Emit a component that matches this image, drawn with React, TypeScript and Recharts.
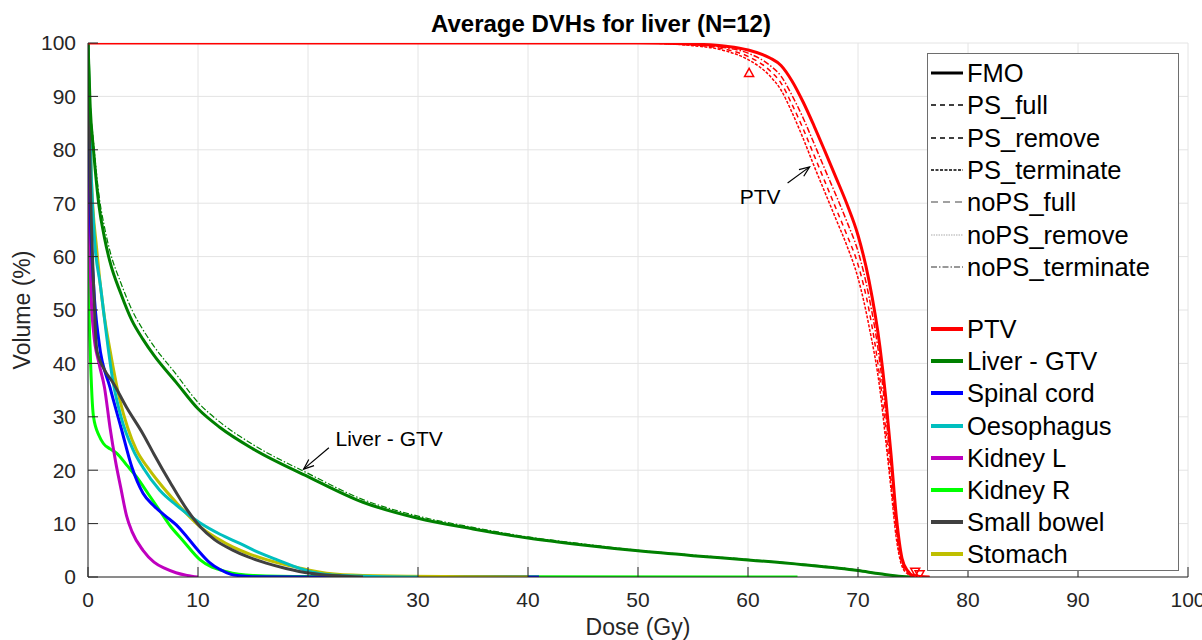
import React from 'react';
import {
  ComposedChart,
  Line,
  Scatter,
  XAxis,
  YAxis,
  CartesianGrid,
  ReferenceLine,
  ReferenceDot,
} from 'recharts';

const FONT = '"Liberation Sans", Arial, Helvetica, sans-serif';
const AXIS_COLOR = '#262626';

const doseTicks = [0, 10, 20, 30, 40, 50, 60, 70, 80, 90, 100];
const volumeTicks = [0, 10, 20, 30, 40, 50, 60, 70, 80, 90, 100];

// PTV (FMO and a few of the near-identical plan variants)
const ptvDose = [0, 50, 55, 58, 60, 62, 63, 64, 65, 66, 67, 68, 69, 70, 71, 72, 72.5, 73, 73.5, 74, 74.5, 75, 76.5];
const ptvFmo = [100, 100, 99.8, 99.4, 98.7, 97.2, 95.8, 92.9, 89, 84.5, 79.7, 74.8, 69.8, 64, 55.5, 43, 34, 23, 11, 3.5, 1.2, 0.3, 0];
const ptvPsFull = [100, 100, 99.6, 98.8, 97.5, 94.8, 92.5, 88.5, 84, 79, 74, 69, 64, 58.5, 50, 37, 28, 18, 8, 2.5, 0.8, 0.2, 0];
const ptvPsTerminate = [100, 100, 99.5, 98.5, 96.9, 93.8, 91.2, 87, 82.2, 77, 72, 67, 62, 56, 47, 35, 26, 16.5, 7, 2, 0.6, 0.1, 0];
const ptvNoPsTerminate = [100, 100, 99.7, 99.1, 98.1, 95.8, 93.8, 90.2, 86, 81.2, 76.3, 71.5, 66.5, 61, 52.5, 40, 31, 20.5, 9.5, 3, 1, 0.2, 0];

// Liver - GTV
const liverDose = [0, 0.2, 0.5, 1, 1.5, 2, 3, 4, 5, 6, 8, 10, 12, 15, 20, 25, 30, 35, 40, 45, 50, 55, 60, 65, 70, 72, 74, 75];
const liverFmo = [100, 88, 80, 69.5, 63.5, 59, 53, 48, 44.5, 41.5, 36.5, 31.5, 28, 24, 18.8, 14, 11, 9, 7.3, 6, 4.9, 4, 3.2, 2.3, 1.2, 0.6, 0.1, 0];
const liverNoPsTerminate = [100, 89, 81.5, 71.5, 65.5, 61, 55, 50, 46.3, 43.2, 38, 32.7, 29, 24.8, 19.4, 14.5, 11.4, 9.3, 7.5, 6.2, 5, 4.1, 3.3, 2.4, 1.3, 0.6, 0.1, 0];

// Spinal cord
const cordDose = [0, 0.2, 0.5, 1, 2, 3, 4, 5, 6, 7, 8, 9, 10, 11, 12, 13, 14, 15, 20, 41];
const cordFmo = [100, 70, 55, 44, 35.5, 28, 20.5, 15.7, 13.3, 11.5, 9.8, 7.5, 5, 2.8, 1.4, 0.5, 0.2, 0.05, 0, 0];

// Oesophagus
const oesoDose = [0, 0.3, 0.6, 1.1, 2.3, 3, 4.1, 5, 6.5, 8, 10.2, 12, 13.8, 15.5, 17.2, 20.2, 23, 30];
const oesoFmo = [100, 75, 63, 55, 36.3, 30, 23.8, 20.5, 16.3, 13.5, 10.1, 8, 6.3, 4.6, 3.2, 1, 0.3, 0];

// Kidney L
const kidLDose = [0, 0.1, 0.3, 0.5, 1, 1.5, 2, 2.5, 3, 3.5, 4, 5, 6, 7, 8, 9, 10];
const kidLFmo = [100, 70, 52, 46, 40, 35.5, 28, 21.7, 16.5, 11.5, 8.5, 5, 2.8, 1.6, 0.8, 0.3, 0];

// Kidney R
const kidRDose = [0, 0.1, 0.2, 0.5, 1, 1.4, 2, 2.6, 3.5, 4.4, 5.5, 6.5, 7.5, 8.6, 10.2, 12.6, 15, 20, 30, 64.5];
const kidRFmo = [100, 50, 42.5, 30, 26.5, 25, 24, 23.2, 21, 18.8, 15.5, 12.5, 9.5, 6.9, 3.2, 1, 0.3, 0.1, 0.05, 0];

// Small bowel
const bowelDose = [0, 0.2, 0.5, 0.8, 1.5, 2.3, 3.5, 5, 6, 7.5, 9, 10.2, 11.5, 13.2, 14.5, 16.2, 18, 20.2, 25];
const bowelFmo = [100, 75, 55, 42.5, 38.8, 36.3, 31.8, 26.8, 23, 17.6, 12.6, 9.4, 7, 5, 3.8, 2.6, 1.6, 0.7, 0];

// Stomach
const stomachDose = [0, 0.3, 0.8, 1.4, 2, 2.9, 3.6, 4.4, 5.5, 6.5, 8, 10.2, 11.7, 13.2, 14.7, 16.3, 19, 21.7, 25, 40];
const stomachFmo = [100, 75, 61.2, 50, 42.5, 33.1, 28, 23.8, 20.3, 17.6, 14, 9.4, 7.3, 5.6, 4.3, 3.2, 1.8, 0.7, 0.3, 0];

// PTV markers (open triangles)
const ptvMarkUp = [{ dose: 60.1, v: 94.4 }];
const ptvMarkDown = [{ dose: 75.2, v: 1.0 }, { dose: 75.6, v: 0.5 }];

const methodLegend = [
  { name: 'FMO', color: '#000', dash: undefined, width: 3 },
  { name: 'PS_full', color: '#000', dash: '5 4', width: 1.3 },
  { name: 'PS_remove', color: '#000', dash: '5 4', width: 1.3 },
  { name: 'PS_terminate', color: '#000', dash: '3 1.5', width: 1.3 },
  { name: 'noPS_full', color: '#444', dash: '7 5', width: 1.2 },
  { name: 'noPS_remove', color: '#aaa', dash: '1.5 1', width: 1.2 },
  { name: 'noPS_terminate', color: '#333', dash: '6 2 1.5 2', width: 1.2 },
];

const structureLegend = [
  { name: 'PTV', color: '#FF0000' },
  { name: 'Liver - GTV', color: '#008000' },
  { name: 'Spinal cord', color: '#0000FF' },
  { name: 'Oesophagus', color: '#00BFBF' },
  { name: 'Kidney L', color: '#BF00BF' },
  { name: 'Kidney R', color: '#00FF00' },
  { name: 'Small bowel', color: '#404040' },
  { name: 'Stomach', color: '#BFBF00' },
];

const toPoints = (dose: number[], vol: number[]) => dose.map((d, i) => ({ dose: d, v: vol[i] }));

const curves = [
  { key: 'kidR', color: '#00FF00', data: toPoints(kidRDose, kidRFmo), width: 3 },
  { key: 'kidL', color: '#BF00BF', data: toPoints(kidLDose, kidLFmo), width: 3 },
  { key: 'cord', color: '#0000FF', data: toPoints(cordDose, cordFmo), width: 3 },
  { key: 'stomach', color: '#BFBF00', data: toPoints(stomachDose, stomachFmo), width: 3 },
  { key: 'oeso', color: '#00BFBF', data: toPoints(oesoDose, oesoFmo), width: 3 },
  { key: 'bowel', color: '#404040', data: toPoints(bowelDose, bowelFmo), width: 3 },
  { key: 'liverV', color: '#008000', data: toPoints(liverDose, liverNoPsTerminate), width: 1.2, dash: '6 2 1.5 2' },
  { key: 'liver', color: '#008000', data: toPoints(liverDose, liverFmo), width: 3 },
  { key: 'ptvA', color: '#FF0000', data: toPoints(ptvDose, ptvPsFull), width: 1.5, dash: '5 4' },
  { key: 'ptvB', color: '#FF0000', data: toPoints(ptvDose, ptvPsTerminate), width: 1.5, dash: '3 1.5' },
  { key: 'ptvC', color: '#FF0000', data: toPoints(ptvDose, ptvNoPsTerminate), width: 1.5, dash: '6 2 1.5 2' },
  { key: 'ptv', color: '#FF0000', data: toPoints(ptvDose, ptvFmo), width: 3 },
];

const TriangleUp = (p: any) => {
  const { cx, cy } = p;
  return <polygon points={`${cx},${cy - 4.5} ${cx - 4.5},${cy + 3.5} ${cx + 4.5},${cy + 3.5}`} fill="none" stroke="#FF0000" strokeWidth={1.5} />;
};
const TriangleDown = (p: any) => {
  const { cx, cy } = p;
  return <polygon points={`${cx},${cy + 4.5} ${cx - 4.5},${cy - 3.5} ${cx + 4.5},${cy - 3.5}`} fill="none" stroke="#FF0000" strokeWidth={1.5} />;
};

const ArrowShape = (p: any) => {
  const { x1, y1, x2, y2 } = p;
  const ang = Math.atan2(y2 - y1, x2 - x1);
  const len = 11;
  const spread = 0.38;
  const ax = x2 - len * Math.cos(ang - spread);
  const ay = y2 - len * Math.sin(ang - spread);
  const bx = x2 - len * Math.cos(ang + spread);
  const by = y2 - len * Math.sin(ang + spread);
  return (
    <g stroke="#000" strokeWidth={1.2} fill="none">
      <line x1={x1} y1={y1} x2={x2} y2={y2} />
      <polyline points={`${ax},${ay} ${x2},${y2} ${bx},${by}`} />
    </g>
  );
};

const annotationText = (text: string, anchor: 'start' | 'middle') => (p: any) => (
  <text x={p.cx} y={p.cy} textAnchor={anchor} dominantBaseline="central" fontFamily={FONT} fontSize={21} fill="#000">
    {text}
  </text>
);

const LegendSample = ({ color, dash, width }: { color: string; dash?: string; width: number }) => (
  <svg width={34} height={10} style={{ display: 'block', flex: 'none' }}>
    <line x1={1} y1={5} x2={33} y2={5} stroke={color} strokeWidth={width} strokeDasharray={dash} />
  </svg>
);

const LegendBox = () => {
  const rows: React.ReactNode[] = [];
  methodLegend.forEach((m, i) => {
    rows.push(
      <div key={m.name} style={{ position: 'absolute', left: 2, top: 19 + i * 32.3 - 16, height: 32, display: 'flex', alignItems: 'center' }}>
        <LegendSample color={m.color} dash={m.dash} width={m.width} />
        <span style={{ marginLeft: 3 }}>{m.name}</span>
      </div>
    );
  });
  structureLegend.forEach((s, i) => {
    rows.push(
      <div key={s.name} style={{ position: 'absolute', left: 2, top: 275 + i * 32.2 - 16, height: 32, display: 'flex', alignItems: 'center' }}>
        <LegendSample color={s.color} width={4} />
        <span style={{ marginLeft: 3 }}>{s.name}</span>
      </div>
    );
  });
  return (
    <div
      style={{
        position: 'absolute',
        left: 927,
        top: 53,
        width: 250,
        height: 516,
        background: '#fff',
        border: '1px solid #6e6e6e',
        fontFamily: FONT,
        fontSize: 25.5,
        color: '#000',
        lineHeight: '32px',
        whiteSpace: 'nowrap',
      }}
    >
      {rows}
    </div>
  );
};

export default function App() {
  return (
    <div style={{ position: 'absolute', left: 0, top: 0, width: 1202, height: 640, background: '#fff', fontFamily: FONT }}>
      <div
        style={{
          position: 'absolute',
          left: 0,
          width: 1202,
          top: 10,
          textAlign: 'center',
          fontWeight: 'bold',
          fontSize: 24,
          lineHeight: '28px',
          color: '#000',
        }}
      >
        Average DVHs for liver (N=12)
      </div>
      <ComposedChart width={1202} height={640} margin={{ top: 43, right: 14, bottom: 0, left: 0 }}>
        <CartesianGrid stroke="#e4e4e4" strokeWidth={1} />
        <XAxis
          dataKey="dose"
          type="number"
          domain={[0, 100]}
          ticks={doseTicks}
          allowDataOverflow
          height={63}
          tickSize={-10}
          tickMargin={25}
          interval={0}
          stroke={AXIS_COLOR}
          tick={{ fill: AXIS_COLOR, fontSize: 21, fontFamily: FONT }}
          label={{ value: 'Dose (Gy)', position: 'insideBottom', offset: 5, fill: AXIS_COLOR, fontSize: 23, fontFamily: FONT }}
        />
        <XAxis
          xAxisId="top"
          orientation="top"
          dataKey="dose"
          type="number"
          domain={[0, 100]}
          ticks={doseTicks}
          allowDataOverflow
          height={0}
          tickSize={-10}
          interval={0}
          stroke={AXIS_COLOR}
          tick={() => <g />}
        />
        <YAxis
          type="number"
          domain={[0, 100]}
          ticks={volumeTicks}
          allowDataOverflow
          width={88}
          tickSize={-10}
          tickMargin={22}
          interval={0}
          stroke={AXIS_COLOR}
          tick={{ fill: AXIS_COLOR, fontSize: 21, fontFamily: FONT }}
          label={{
            value: 'Volume (%)',
            angle: -90,
            position: 'insideLeft',
            offset: 22,
            fill: AXIS_COLOR,
            fontSize: 23,
            fontFamily: FONT,
            style: { textAnchor: 'middle' },
          }}
        />
        <YAxis
          yAxisId="right"
          orientation="right"
          type="number"
          domain={[0, 100]}
          ticks={volumeTicks}
          allowDataOverflow
          width={0}
          tickSize={-10}
          interval={0}
          stroke={AXIS_COLOR}
          tick={() => <g />}
        />
        {curves.map((c) => (
          <Line
            key={c.key}
            data={c.data}
            dataKey="v"
            type="monotoneX"
            stroke={c.color}
            strokeWidth={c.width}
            strokeDasharray={c.dash}
            dot={false}
            activeDot={false}
            isAnimationActive={false}
          />
        ))}
        <Scatter data={ptvMarkUp} dataKey="v" shape={TriangleUp} isAnimationActive={false} />
        <Scatter data={ptvMarkDown} dataKey="v" shape={TriangleDown} isAnimationActive={false} />
        <ReferenceLine
          segment={[{ x: 63.6, y: 73.8 }, { x: 65.6, y: 76.8 }]}
          shape={ArrowShape}
        />
        <ReferenceLine
          segment={[{ x: 21.9, y: 24.2 }, { x: 19.6, y: 20.2 }]}
          shape={ArrowShape}
        />
        <ReferenceDot x={61.1} y={71.2} r={0} shape={annotationText('PTV', 'middle')} />
        <ReferenceDot x={22.5} y={25.9} r={0} shape={annotationText('Liver - GTV', 'start')} />
      </ComposedChart>
      <LegendBox />
    </div>
  );
}
